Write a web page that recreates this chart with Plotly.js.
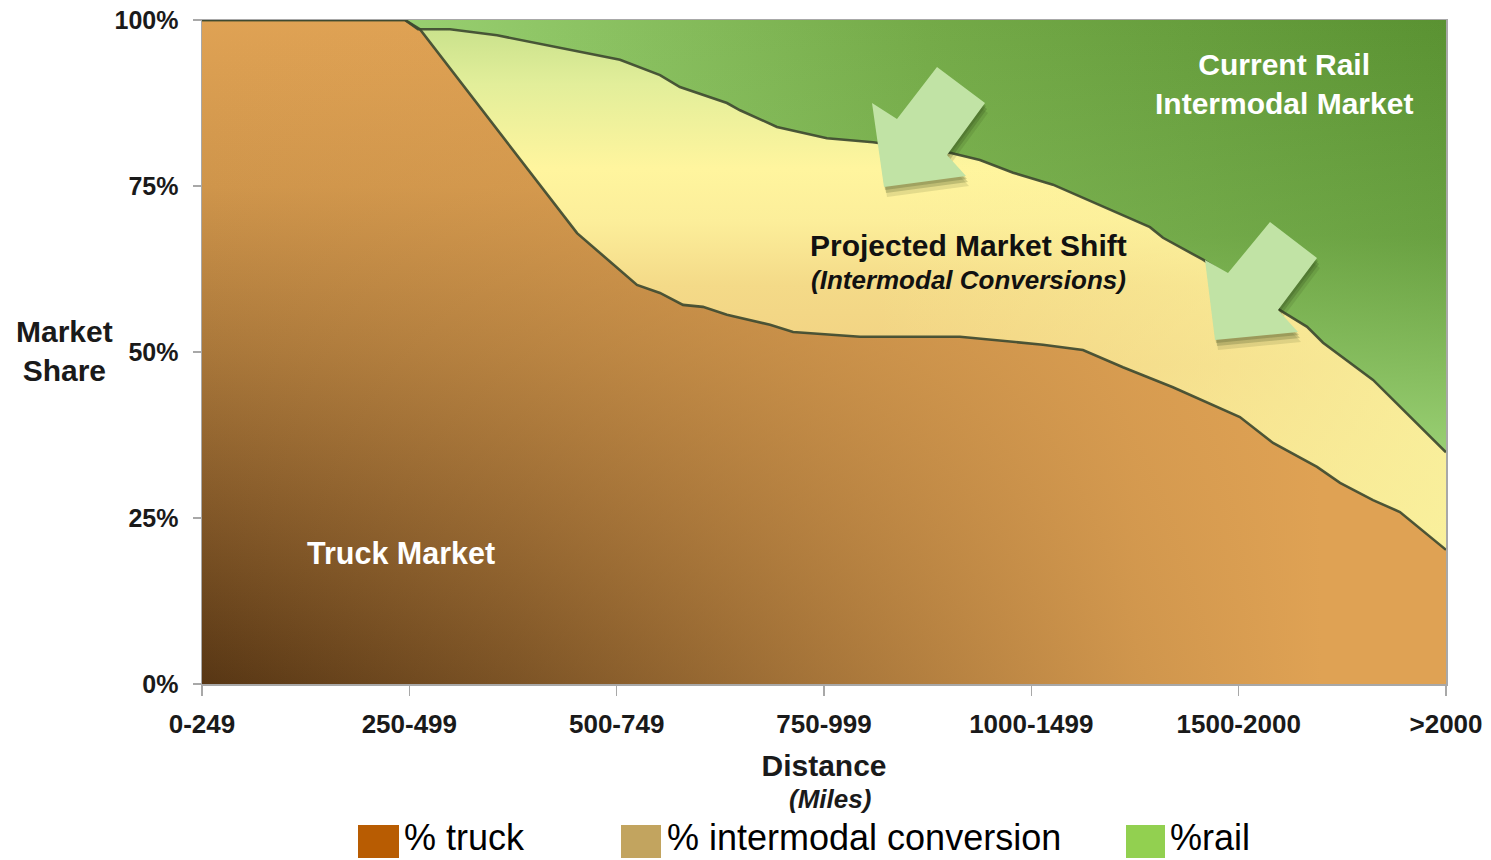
<!DOCTYPE html>
<html>
<head>
<meta charset="utf-8">
<script src="https://cdn.plot.ly/plotly-3.0.1.min.js"></script>
<style>
  html, body { margin: 0; padding: 0; background: #ffffff; }
  #chart { width: 1491px; height: 860px; }
</style>
</head>
<body>
<div id="chart"></div>
<script>
// ---------------- DATA ----------------
const distanceCategories = ['0-249', '250-499', '500-749', '750-999', '1000-1499', '1500-2000', '>2000'];
const categoryPositions = [0, 1, 2, 3, 4, 5, 6];
const shareTicks = [0, 25, 50, 75, 100];
const shareTickLabels = ['0%', '25%', '50%', '75%', '100%'];

// Truck market share (%) along the distance axis (category index units)
const truckDistance = [0, 0.979, 1.051, 1.809, 2.098, 2.209, 2.320, 2.416, 2.532, 2.740, 2.851, 3.174,
  3.656, 3.815, 4.056, 4.249, 4.442, 4.683, 5.006, 5.166, 5.378, 5.489, 5.648, 5.778, 6];
const truckShare = [100, 100, 98.6, 67.9, 60.1, 58.9, 57.1, 56.8, 55.6, 54.1, 53.0, 52.3,
  52.3, 51.8, 51.1, 50.3, 47.7, 44.7, 40.2, 36.3, 32.7, 30.3, 27.7, 25.9, 20.2];

// Current rail intermodal market share (%) along the distance axis
const railDistance = [0, 0.979, 1.042, 1.196, 1.423, 2.016, 2.209, 2.305, 2.532, 2.595, 2.773, 3.014,
  3.236, 3.608, 3.752, 3.912, 4.104, 4.572, 4.635, 4.717, 4.828, 5.199, 5.330, 5.407, 5.489, 5.648, 6];
const railShare = [0, 0, 1.4, 1.4, 2.3, 6.0, 8.3, 10.1, 12.5, 13.6, 16.1, 17.8,
  18.4, 20.0, 21.1, 23.0, 24.8, 31.2, 32.8, 34.2, 36.1, 43.7, 46.2, 48.6, 50.5, 54.2, 65.1];

const legendLabels = ['% truck', '% intermodal conversion', '%rail'];
const legendColors = ['#b85c02', '#c2a45f', '#92d050'];

// ---------------- DERIVED ----------------
// upper edge of the intermodal-conversion band = 100 - rail share
const railLower = railShare.map(v => 100 - v);
const rev = a => a.slice().reverse();

const FONT = 'Liberation Sans, Arial, Helvetica, sans-serif';
const LINE = 'rgba(62,74,48,0.92)';

const traces = [
  // Truck area: vertical base gradient
  {
    x: truckDistance, y: truckShare, type: 'scatter', mode: 'none', fill: 'tozeroy',
    fillgradient: { type: 'vertical', start: 0, stop: 100,
      colorscale: [[0, '#573614'], [0.25, '#805627'], [0.5, '#a9773a'], [0.75, '#cf954b'], [1, '#dfa254']] },
    hoverinfo: 'skip', showlegend: false
  },
  // Truck area: horizontal lightening overlay (gives the diagonal shading)
  {
    x: truckDistance, y: truckShare, type: 'scatter', mode: 'none', fill: 'tozeroy',
    fillgradient: { type: 'horizontal', start: 0, stop: 6,
      colorscale: [[0, 'rgba(223,162,84,0)'], [0.25, 'rgba(223,162,84,0.27)'], [0.5, 'rgba(223,162,84,0.58)'],
                   [0.75, 'rgba(223,162,84,0.88)'], [0.9, 'rgba(223,162,84,1)'], [1, 'rgba(223,162,84,1)']] },
    hoverinfo: 'skip', showlegend: false
  },
  // Intermodal conversion band (between truck edge and rail edge)
  {
    x: truckDistance.concat(rev(railDistance)), y: truckShare.concat(rev(railLower)),
    type: 'scatter', mode: 'none', fill: 'toself',
    fillgradient: { type: 'vertical', start: 20, stop: 100,
      colorscale: [[0, '#f6df8c'], [0.35, '#f1d182'], [0.5, '#f4da88'], [0.62, '#fcee9a'], [0.72, '#fff59e'],
                   [0.88, '#e2ee9a'], [1, '#c6e08a']] },
    hoverinfo: 'skip', showlegend: false
  },
  {
    x: truckDistance.concat(rev(railDistance)), y: truckShare.concat(rev(railLower)),
    type: 'scatter', mode: 'none', fill: 'toself',
    fillgradient: { type: 'horizontal', start: 1, stop: 6,
      colorscale: [[0, 'rgba(253,243,156,0)'], [0.45, 'rgba(253,243,156,0)'], [1, 'rgba(250,244,160,0.8)']] },
    hoverinfo: 'skip', showlegend: false
  },
  // Rail area
  {
    x: railDistance.concat([6, 0]), y: railLower.concat([100, 100]),
    type: 'scatter', mode: 'none', fill: 'toself',
    fillgradient: { type: 'horizontal', start: 1, stop: 6,
      colorscale: [[0, '#98cf70'], [0.5, '#74aa48'], [1, '#5a9232']] },
    hoverinfo: 'skip', showlegend: false
  },
  {
    x: railDistance.concat([6, 0]), y: railLower.concat([100, 100]),
    type: 'scatter', mode: 'none', fill: 'toself',
    fillgradient: { type: 'vertical', start: 35, stop: 100,
      colorscale: [[0, 'rgba(156,210,118,0.95)'], [0.5, 'rgba(150,205,110,0.25)'], [1, 'rgba(150,205,110,0)']] },
    hoverinfo: 'skip', showlegend: false
  },
  // Boundary lines
  {
    x: truckDistance, y: truckShare, type: 'scatter', mode: 'lines',
    line: { color: LINE, width: 2.6 }, name: '% truck', showlegend: false, hoverinfo: 'skip'
  },
  {
    x: railDistance, y: railLower, type: 'scatter', mode: 'lines',
    line: { color: LINE, width: 2.6 }, name: '%rail', showlegend: false, hoverinfo: 'skip'
  }
];

// ---------------- DECORATION (pixel helpers for shapes outside data) ----------------
const PL = 202, PR = 1446, PT = 20, PB = 684;
const pxX = px => (px - PL) / (PR - PL);
const pxY = py => (PB - py) / (PB - PT);

function arrowPath(pts, dx, dy) {
  return pts.map((p, i) => (i ? 'L' : 'M') + pxX(p[0] + dx).toFixed(5) + ',' + pxY(p[1] + dy).toFixed(5)).join(' ') + ' Z';
}
const arrow1 = [[884, 187], [872, 103], [897, 119], [937, 67], [985, 103], [947, 155], [966, 176]];
const arrow2 = [[1215, 340], [1205, 260], [1228, 273], [1270, 222], [1317, 258], [1278, 310], [1298, 332]];

const shapes = [];
[arrow1, arrow2].forEach(a => {
  shapes.push({ type: 'path', xref: 'paper', yref: 'paper', path: arrowPath(a, 3, 10), fillcolor: 'rgba(40,60,20,0.12)', line: { width: 0 } });
  shapes.push({ type: 'path', xref: 'paper', yref: 'paper', path: arrowPath(a, 2, 6), fillcolor: 'rgba(40,60,20,0.2)', line: { width: 0 } });
  shapes.push({ type: 'path', xref: 'paper', yref: 'paper', path: arrowPath(a, 1, 3), fillcolor: 'rgba(40,60,20,0.2)', line: { width: 0 } });
  shapes.push({ type: 'path', xref: 'paper', yref: 'paper', path: arrowPath(a, 0, 0), fillcolor: '#c1e3a5', line: { width: 0 } });
});

// manual legend swatches
const swatchX = [[358, 399], [621, 661], [1126, 1165]];
const textX = [402, 665, 1168];
swatchX.forEach((s, i) => {
  shapes.push({ type: 'rect', xref: 'paper', yref: 'paper', x0: pxX(s[0]), x1: pxX(s[1]), y0: pxY(858), y1: pxY(825),
    fillcolor: legendColors[i], line: { width: 0 } });
});

const annotations = [
  { xref: 'paper', yref: 'paper', x: pxX(64), y: pxY(351), text: 'Market<br>Share', showarrow: false,
    xanchor: 'center', yanchor: 'middle', font: { family: FONT, size: 30, weight: 'bold', color: '#1a1a1a' } },
  { xref: 'paper', yref: 'paper', x: pxX(830), y: pxY(799), text: '<i>(Miles)</i>', showarrow: false,
    xanchor: 'center', yanchor: 'middle', font: { family: FONT, size: 26, weight: 'bold', style: 'italic', color: '#1a1a1a' } },
  { x: 5.219, y: 90.4, text: 'Current Rail<br>Intermodal Market', showarrow: false,
    font: { family: FONT, size: 30, weight: 'bold', color: '#ffffff' } },
  { x: 3.699, y: 66.1, text: 'Projected Market Shift', showarrow: false,
    font: { family: FONT, size: 30, weight: 'bold', color: '#111111' } },
  { x: 3.699, y: 60.8, text: '<i>(Intermodal Conversions)</i>', showarrow: false,
    font: { family: FONT, size: 26, weight: 'bold', style: 'italic', color: '#111111' } },
  { x: 0.96, y: 19.7, text: 'Truck Market', showarrow: false,
    font: { family: FONT, size: 30.5, weight: 'bold', color: '#ffffff' } }
];
legendLabels.forEach((t, i) => {
  annotations.push({ xref: 'paper', yref: 'paper', x: pxX(textX[i]), y: pxY(860), text: t, showarrow: false,
    xanchor: 'left', yanchor: 'bottom', font: { family: FONT, size: 36, color: '#000000' } });
});

const layout = {
  width: 1491, height: 860,
  margin: { l: PL, r: 1491 - PR, t: PT, b: 860 - PB, pad: 0 },
  paper_bgcolor: '#ffffff', plot_bgcolor: '#ffffff',
  showlegend: false,
  font: { family: FONT, color: '#1a1a1a' },
  xaxis: {
    range: [0, 6], tickmode: 'array', tickvals: categoryPositions, ticktext: distanceCategories,
    showgrid: false, zeroline: false, showline: true, mirror: true, linecolor: '#a8a8a8', linewidth: 1.5,
    ticks: 'outside', ticklen: 10, tickwidth: 1.5, tickcolor: '#a8a8a8',
    tickfont: { family: FONT, size: 26, weight: 'bold', color: '#1a1a1a' }, ticklabelstandoff: 6,
    title: { text: 'Distance', font: { family: FONT, size: 30, weight: 'bold', color: '#1a1a1a' }, standoff: 17 },
    fixedrange: true
  },
  yaxis: {
    range: [0, 100], tickmode: 'array', tickvals: shareTicks, ticktext: shareTickLabels,
    showgrid: false, zeroline: false, showline: true, mirror: true, linecolor: '#a8a8a8', linewidth: 1.5,
    ticks: 'outside', ticklen: 8, tickwidth: 1.5, tickcolor: '#a8a8a8',
    tickfont: { family: FONT, size: 25, weight: 'bold', color: '#1a1a1a' }, ticklabelstandoff: 9,
    fixedrange: true
  },
  shapes: shapes,
  annotations: annotations
};

Plotly.newPlot('chart', traces, layout, { displayModeBar: false, staticPlot: true });
</script>
</body>
</html>
